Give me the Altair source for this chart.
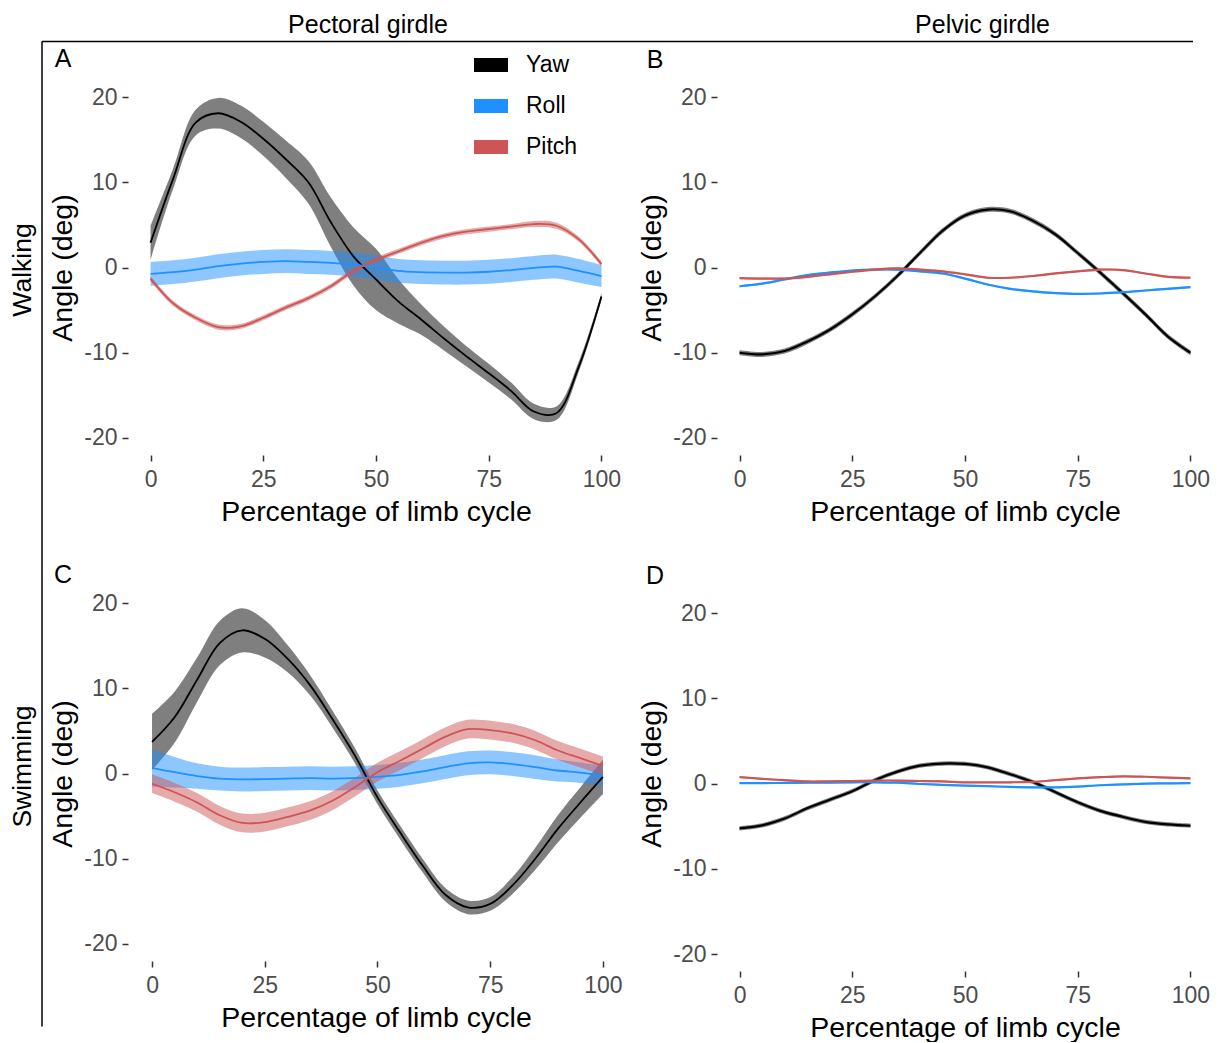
import altair as alt
import pandas as pd

# ---------------- data ----------------
X = [0, 5, 10, 15, 20, 25, 30, 35, 40, 45, 50, 55, 60, 65, 70, 75, 80, 85, 90, 95, 100]
SERIES = ["Yaw", "Roll", "Pitch"]
COLORS = ["#000000", "#1E90FF", "#CD5555"]
X_TICKS = [0, 25, 50, 75, 100]
Y_TICKS = [-20, -10, 0, 10, 20]

# Panel A: pectoral girdle, walking
A_yaw = [2.9, 10.4, 17.0, 18.1, 17.1, 15.1, 12.7, 10.0, 5.3, 1.3, -1.4, -4.0, -6.1, -8.3, -10.4, -12.4, -14.5, -16.9, -17.1, -11.6, -3.4]
A_yaw_se = [2.0, 1.2, 1.5, 1.8, 1.9, 2.0, 2.2, 2.5, 2.9, 3.4, 3.6, 2.6, 1.8, 1.4, 1.2, 1.1, 1.0, 0.9, 0.8, 0.6, 0.4]
A_roll = [-0.75, -0.55, -0.25, 0.15, 0.45, 0.65, 0.75, 0.65, 0.55, 0.35, 0.0, -0.4, -0.55, -0.6, -0.6, -0.5, -0.3, -0.05, 0.1, -0.4, -1.0]
A_roll_se = [1.4, 1.4, 1.4, 1.4, 1.4, 1.4, 1.4, 1.4, 1.4, 1.4, 1.4, 1.4, 1.4, 1.4, 1.4, 1.4, 1.4, 1.4, 1.4, 1.4, 1.3]
A_pitch = [-1.3, -4.2, -5.9, -7.0, -6.9, -5.9, -4.7, -3.6, -2.2, -0.4, 0.9, 1.9, 2.9, 3.7, 4.2, 4.5, 4.8, 5.1, 4.9, 3.3, 0.4]
A_pitch_se = [0.3, 0.3, 0.3, 0.3, 0.3, 0.3, 0.3, 0.3, 0.3, 0.3, 0.3, 0.3, 0.3, 0.3, 0.3, 0.3, 0.3, 0.35, 0.35, 0.3, 0.3]

# Panel B: pelvic girdle, walking
B_yaw = [-10.0, -10.2, -9.8, -8.7, -7.3, -5.5, -3.4, -1.0, 1.7, 4.3, 6.1, 6.8, 6.6, 5.5, 3.9, 1.7, -0.6, -3.0, -5.5, -8.1, -10.0]
B_yaw_se = [0.3, 0.3, 0.3, 0.3, 0.3, 0.3, 0.3, 0.3, 0.3, 0.3, 0.3, 0.3, 0.3, 0.3, 0.3, 0.3, 0.3, 0.3, 0.3, 0.3, 0.3]
B_roll = [-2.2, -1.9, -1.4, -0.9, -0.6, -0.35, -0.25, -0.25, -0.45, -0.7, -1.3, -2.0, -2.5, -2.8, -3.0, -3.1, -3.05, -2.9, -2.7, -2.5, -2.3]
B_roll_se = [0.12, 0.12, 0.12, 0.12, 0.12, 0.12, 0.12, 0.12, 0.12, 0.12, 0.12, 0.12, 0.12, 0.12, 0.12, 0.12, 0.12, 0.12, 0.12, 0.12, 0.12]
B_pitch = [-1.25, -1.3, -1.3, -1.1, -0.8, -0.5, -0.25, -0.1, -0.25, -0.45, -0.8, -1.2, -1.2, -1.0, -0.7, -0.45, -0.25, -0.3, -0.7, -1.1, -1.2]
B_pitch_se = [0.12, 0.12, 0.12, 0.12, 0.12, 0.12, 0.12, 0.12, 0.12, 0.12, 0.12, 0.12, 0.12, 0.12, 0.12, 0.12, 0.12, 0.12, 0.12, 0.12, 0.12]

# Panel C: pectoral girdle, swimming
C_yaw = [3.7, 6.6, 11.0, 15.3, 16.8, 15.8, 13.5, 10.4, 6.4, 2.1, -2.8, -6.9, -10.8, -14.2, -15.7, -15.3, -13.1, -10.0, -6.5, -3.4, -0.4]
C_yaw_se = [3.3, 3.0, 2.6, 2.6, 2.6, 2.2, 1.6, 1.2, 1.0, 0.9, 0.8, 0.8, 0.8, 0.8, 0.8, 0.8, 1.0, 1.3, 1.6, 1.8, 2.0]
C_roll = [0.65, 0.15, -0.3, -0.6, -0.7, -0.65, -0.6, -0.55, -0.6, -0.55, -0.4, -0.15, 0.25, 0.75, 1.2, 1.3, 1.1, 0.75, 0.35, 0.1, -0.25]
C_roll_se = [2.2, 1.8, 1.5, 1.4, 1.4, 1.4, 1.4, 1.4, 1.4, 1.4, 1.4, 1.4, 1.4, 1.4, 1.4, 1.4, 1.4, 1.4, 1.3, 1.2, 1.2]
C_pitch = [-1.2, -2.2, -3.4, -4.9, -5.8, -5.7, -5.1, -4.35, -3.2, -1.6, 0.15, 1.5, 2.9, 4.3, 5.2, 5.1, 4.7, 3.9, 2.7, 1.8, 0.9]
C_pitch_se = [1.1, 1.1, 1.1, 1.1, 1.1, 1.1, 1.1, 1.1, 1.1, 1.1, 1.1, 1.1, 1.1, 1.1, 1.1, 1.1, 1.1, 1.1, 1.1, 1.1, 1.1]

# Panel D: pelvic girdle, swimming
D_yaw = [-5.25, -4.9, -4.1, -2.9, -1.9, -0.9, 0.4, 1.4, 2.1, 2.35, 2.3, 1.9, 1.1, 0.2, -1.0, -2.2, -3.2, -3.9, -4.5, -4.8, -4.95]
D_yaw_se = [0.25, 0.25, 0.25, 0.25, 0.25, 0.25, 0.25, 0.25, 0.25, 0.25, 0.25, 0.25, 0.25, 0.25, 0.25, 0.25, 0.25, 0.25, 0.25, 0.25, 0.25]
D_roll = [0.05, 0.05, 0.08, 0.1, 0.12, 0.15, 0.15, 0.1, -0.05, -0.15, -0.25, -0.3, -0.4, -0.45, -0.45, -0.35, -0.2, -0.1, 0.0, 0.02, 0.04]
D_roll_se = [0.1, 0.1, 0.1, 0.1, 0.1, 0.1, 0.1, 0.1, 0.1, 0.1, 0.1, 0.1, 0.1, 0.1, 0.1, 0.1, 0.1, 0.1, 0.1, 0.1, 0.1]
D_pitch = [0.75, 0.55, 0.4, 0.25, 0.27, 0.3, 0.35, 0.35, 0.3, 0.25, 0.15, 0.15, 0.15, 0.2, 0.4, 0.6, 0.75, 0.85, 0.8, 0.7, 0.6]
D_pitch_se = [0.1, 0.1, 0.1, 0.1, 0.1, 0.1, 0.1, 0.1, 0.1, 0.1, 0.1, 0.1, 0.1, 0.1, 0.1, 0.1, 0.1, 0.1, 0.1, 0.1, 0.1]

COL_HEADERS = ["Pectoral girdle", "Pelvic girdle"]
ROW_HEADERS = ["Walking", "Swimming"]
LETTERS = ["A", "B", "C", "D"]


def build_df(yaw, yaw_se, roll, roll_se, pitch, pitch_se):
    rows = []
    for name, m, s in (("Yaw", yaw, yaw_se), ("Roll", roll, roll_se), ("Pitch", pitch, pitch_se)):
        for xi, mi, si in zip(X, m, s):
            rows.append({"x": xi, "series": name, "mean": mi, "lo": mi - si, "hi": mi + si})
    return pd.DataFrame(rows)


W, H = 496, 375
FONT = "Liberation Sans"
INTERP = "catmull-rom"
Y_LABELS = "datum.value < 0 ? '-' + format(-datum.value, 'd') : format(datum.value, 'd')"


def text_layer(label, x, y, size, font=FONT, angle=0):
    return alt.Chart(pd.DataFrame({"t": [label]})).mark_text(
        font=font, fontSize=size, color="black", align="center", baseline="middle", angle=angle
    ).encode(x=alt.value(x), y=alt.value(y), text="t:N")


def panel(df, letter, letter_xy, xdom, ydom, show_legend=False, x_offset=0, lw=2.0, extras=()):
    cscale = alt.Scale(domain=SERIES, range=COLORS)
    xenc = alt.X("x:Q", scale=alt.Scale(domain=xdom, nice=False, zero=False),
                 axis=alt.Axis(values=X_TICKS, title="Percentage of limb cycle", offset=x_offset))
    yax = alt.Axis(values=Y_TICKS, title="Angle (deg)", labelExpr=Y_LABELS)
    ysc = alt.Scale(domain=ydom, nice=False, zero=False)
    if show_legend:
        leg = alt.Legend(orient="none", legendX=346, legendY=-32, title=None,
                         symbolType="M-1,-0.41H1V0.41H-1Z", symbolSize=1156,
                         symbolOpacity=1, symbolStrokeWidth=0, labelFontSize=23,
                         labelFont=FONT, labelColor="black", labelOffset=18, rowPadding=12)
    else:
        leg = None
    band = alt.Chart(df).mark_area(opacity=0.5, interpolate=INTERP).encode(
        x=xenc,
        y=alt.Y("lo:Q", scale=ysc, axis=yax),
        y2="hi:Q",
        color=alt.Color("series:N", scale=cscale, legend=leg),
    )
    line = alt.Chart(df).mark_line(strokeWidth=lw, interpolate=INTERP).encode(
        x=xenc,
        y=alt.Y("mean:Q", scale=ysc, axis=yax),
        color=alt.Color("series:N", scale=cscale, legend=None),
    )
    layers = [band, line, text_layer(letter, letter_xy[0], letter_xy[1], 25)]
    layers.extend(extras)
    return alt.layer(*layers).properties(width=W, height=H)


dummy = pd.DataFrame({"k": [0]})
hrule = alt.Chart(dummy).mark_rule(color="black", strokeWidth=1.5).encode(
    x=alt.value(-86), x2=alt.value(1065), y=alt.value(-38.5))
vrule = alt.Chart(dummy).mark_rule(color="black", strokeWidth=1.5).encode(
    x=alt.value(-86), y=alt.value(-38.5), y2=alt.value(946.5))

pA = panel(build_df(A_yaw, A_yaw_se, A_roll, A_roll_se, A_pitch, A_pitch_se), LETTERS[0], (-65, -21),
           [-5, 105], [-22, 22], show_legend=True, lw=1.8,
           extras=[hrule, vrule,
                   text_layer(COL_HEADERS[0], 240, -55, 25),
                   text_layer(ROW_HEADERS[0], -105, 190, 26.5, angle=270)])
pB = panel(build_df(B_yaw, B_yaw_se, B_roll, B_roll_se, B_pitch, B_pitch_se), LETTERS[1], (-62, -20),
           [-5, 105], [-22, 22], lw=2.2,
           extras=[text_layer(COL_HEADERS[1], 265.5, -55, 25)])
pC = panel(build_df(C_yaw, C_yaw_se, C_roll, C_roll_se, C_pitch, C_pitch_se), LETTERS[2], (-65, -11.5),
           [-5.33, 104.67], [-22, 22], lw=1.8,
           extras=[text_layer(ROW_HEADERS[1], -105, 180.5, 26.5, angle=270)])
pD = panel(build_df(D_yaw, D_yaw_se, D_roll, D_roll_se, D_pitch, D_pitch_se), LETTERS[3], (-62, -10.5),
           [-5, 105], [-20.82, 23.18], x_offset=10, lw=2.2)

chart = alt.concat(pA, pB, pC, pD, columns=2, spacing={"row": 131, "column": 93},
                   bounds="flush").resolve_scale(color="independent").properties(
    padding={"left": 2, "top": 5, "right": 0, "bottom": 0}
).configure(font=FONT).configure_view(strokeWidth=0).configure_axis(
    domain=False, grid=False, ticks=True, tickColor="#333333", tickWidth=1.5, tickSize=6,
    labelColor="#4D4D4D", labelFontSize=23, labelFont=FONT, labelFlush=False,
    titleFontSize=28.5, titleFontWeight="normal", titleColor="black", titleFont=FONT
).configure_axisX(labelPadding=7, titlePadding=6).configure_axisY(labelPadding=5, titlePadding=6)

chart.save("out.html", embed_options={"renderer": "svg", "actions": False})
